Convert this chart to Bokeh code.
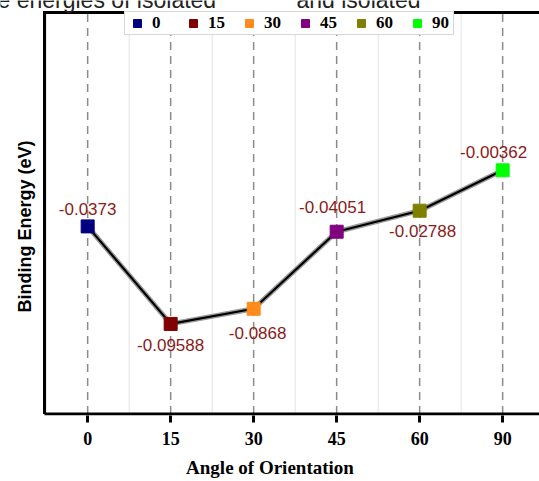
import math
from bokeh.plotting import figure
from bokeh.models import (ColumnDataSource, Range1d, FixedTicker, Label, Legend, LegendItem)
from bokeh.core.properties import value
from bokeh.embed import file_html
from bokeh.resources import INLINE

categories = ["0", "15", "30", "45", "60", "90"]
energies = [-0.0373, -0.09588, -0.0868, -0.04051, -0.02788, -0.00362]
value_labels = ["-0.0373", "-0.09588", "-0.0868", "-0.04051", "-0.02788", "-0.00362"]
colors = ["#000080", "#800000", "#FF8C1A", "#800080", "#808000", "#00FF00"]
label_dx = [0, 0, 4, -4, 3, -9]
label_dy = [17, -21, -24, 25, -20, 18]

xs = list(range(len(categories)))

# drawn box in data units and pixel scale
X0 = -0.52
Y0, Y1 = -0.15, 0.0912
PX_X = 83.0
PX_Y = 403 / (Y1 - Y0)
LEFT_PX, TOP_PX = 44, 12

src = ColumnDataSource(dict(x=xs, y=energies, cat=categories, color=colors,
                            lab=value_labels, dx=label_dx, dy=[-d for d in label_dy]))

x_start = X0 - LEFT_PX / PX_X
x_end = x_start + 539 / PX_X
y_top = Y1 + TOP_PX / PX_Y
y_start = Y0 - 1.5 / PX_Y

p = figure(width=539, height=481, output_backend="svg", toolbar_location=None,
           x_range=Range1d(x_start, x_end), y_range=Range1d(y_start, y_top),
           y_axis_location=None,
           min_border_left=0, min_border_right=0, min_border_top=0, min_border_bottom=66)
p.outline_line_color = None
p.background_fill_color = "white"
p.border_fill_color = "white"
p.grid.grid_line_color = None

# x axis (ticks and labels only; box line drawn below)
p.xaxis.ticker = FixedTicker(ticks=xs)
p.xaxis.major_label_overrides = {i: c for i, c in enumerate(categories)}
xa = p.xaxis[0]
xa.axis_line_color = None
xa.major_tick_line_width = 3
xa.major_tick_line_color = "black"
xa.major_tick_out = 7
xa.major_tick_in = 0
xa.minor_tick_line_color = None
xa.major_label_text_font = "Liberation Serif"
xa.major_label_text_font_style = "bold"
xa.major_label_text_font_size = "18px"
xa.major_label_text_color = "black"
xa.major_label_standoff = 9
xa.axis_label = "Angle of Orientation"
xa.axis_label_text_font = "Liberation Serif"
xa.axis_label_text_font_style = "bold"
xa.axis_label_text_font_size = "19px"
xa.axis_label_text_color = "black"
xa.axis_label_standoff = 9

# grid lines inside the box
minor = [i + 0.5 for i in range(-1, len(xs))]
p.segment(x0=minor, y0=[Y0] * len(minor), x1=minor, y1=[Y1] * len(minor),
          line_color="#e3e3e3", line_width=1)
p.segment(x0=xs, y0=[Y0] * len(xs), x1=xs, y1=[Y1] * len(xs),
          line_color="#8a8a8a", line_width=1.5, line_dash="8 6")

# box: left, bottom and top lines
p.segment(x0=[X0, X0], y0=[Y0, Y0], x1=[X0, x_end], y1=[Y1, Y0],
          line_color="black", line_width=3)
p.line(x=[X0 - 1.5 / PX_X, x_end], y=[Y1, Y1], line_color="black", line_width=3)

# line with shadow
p.line("x", "y", source=src, line_color="#9a9a9a", line_width=5)
p.line("x", "y", source=src, line_color="black", line_width=2.2)

# markers, one renderer per category for the legend
items = []
for i, c in enumerate(categories):
    s = ColumnDataSource(dict(x=[xs[i]], y=[energies[i]]))
    r = p.scatter("x", "y", source=s, marker="square", size=13,
                  fill_color=colors[i], line_color=colors[i])
    items.append(LegendItem(label=c, renderers=[r]))

# value labels
p.text("x", "y", text="lab", source=src, x_offset="dx", y_offset="dy",
       text_align="center", text_baseline="middle",
       text_font=value("Liberation Sans"), text_font_size="17px", text_color="#8B1A1A")

# y axis title
p.add_layout(Label(x=24, y=226, x_units="canvas", y_units="canvas",
                   text="Binding Energy (eV)", angle=math.pi / 2,
                   text_align="center", text_baseline="middle",
                   text_font="Liberation Sans", text_font_style="bold",
                   text_font_size="18px", text_color="black"))

legend = Legend(items=items, orientation="horizontal",
                margin=0, padding=1, spacing=10, label_standoff=4,
                glyph_width=22, glyph_height=20, label_height=18,
                label_text_font="Liberation Serif", label_text_font_style="bold",
                label_text_font_size="17px", label_text_color="black",
                border_line_color="#b0b0b0", border_line_width=1,
                background_fill_color="white", background_fill_alpha=1)
legend.location = (124, 380)
p.add_layout(legend)

# cropped caption text at top of page
p.add_layout(Label(x=-3, y=-1, x_units="canvas", y_units="canvas", text="e energies of isolated",
                   text_font="Liberation Sans", text_font_size="23px",
                   text_color="#222222", text_baseline="alphabetic"))
p.add_layout(Label(x=296, y=-1, x_units="canvas", y_units="canvas", text="and isolated",
                   text_font="Liberation Sans", text_font_size="23px",
                   text_color="#222222", text_baseline="alphabetic"))

open("out.html", "w").write(file_html(p, INLINE))
